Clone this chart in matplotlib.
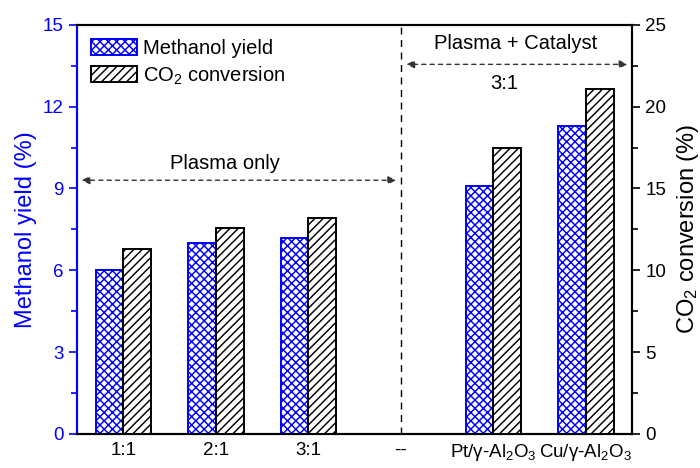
import numpy as np
from matplotlib import pyplot as plt
from matplotlib.ticker import MultipleLocator

plt.rcParams['font.family'] = ['Liberation Sans', 'DejaVu Sans']
plt.rcParams['mathtext.fontset'] = 'custom'
plt.rcParams['mathtext.rm'] = 'Liberation Sans'
plt.rcParams['mathtext.default'] = 'regular'
plt.rcParams['hatch.linewidth'] = 1.05

# data
categories = ['1:1', '2:1', '3:1', '--', 'Pt/γ-Al$_2$O$_3$', 'Cu/γ-Al$_2$O$_3$']
methanol_yield = [6.0, 7.0, 7.2, 0, 9.1, 11.3]
co2_conversion = [11.3, 12.6, 13.2, 0, 17.5, 21.1]

fig = plt.figure(figsize=(7, 4.68), dpi=100)
ax = fig.add_axes([0.11, 0.073, 0.793, 0.874])
ax2 = ax.twinx()

x = np.arange(len(categories))
w = 0.3
blue = '#0000ff'
b1 = ax.bar(x - w / 2, methanol_yield, w, color='white', edgecolor=blue,
            hatch='xxxx', linewidth=1.4, label='Methanol yield')
b2 = ax2.bar(x + w / 2, co2_conversion, w, color='white', edgecolor='black',
             hatch='////', linewidth=1.4, label='CO$_2$ conversion')
# the empty "--" slot has no bars
b1[3].set_visible(False)
b2[3].set_visible(False)

ax.set_xlim(-0.5, 5.5)
ax.set_ylim(0, 15)
ax2.set_ylim(0, 25)
ax.set_xticks(x)
ax.set_xticklabels(categories, fontsize=13.5)
ax.tick_params(axis='x', length=0, pad=6)

ax.yaxis.set_major_locator(MultipleLocator(3))
ax.yaxis.set_minor_locator(MultipleLocator(1.5))
ax2.yaxis.set_major_locator(MultipleLocator(5))
ax2.yaxis.set_minor_locator(MultipleLocator(2.5))
ax.tick_params(axis='y', which='major', colors=blue, labelsize=13.5, length=6, width=1.2)
ax.tick_params(axis='y', which='minor', colors=blue, length=4, width=1.2)
ax2.tick_params(axis='y', which='major', colors='black', labelsize=13.5, length=6, width=1.2)
ax2.tick_params(axis='y', which='minor', colors='black', length=4, width=1.2)

ax.set_ylabel('Methanol yield (%)', color=blue, fontsize=17, labelpad=4)
ax2.set_ylabel('CO$_2$ conversion (%)', fontsize=17, labelpad=6)

for a in (ax, ax2):
    for s in a.spines.values():
        s.set_linewidth(1.5)
ax2.spines['left'].set_color(blue)
ax.spines['left'].set_color(blue)

# separator and annotations
ax.axvline(3, color='black', linestyle=(0, (5, 4)), linewidth=1)
ax.annotate('', xy=(-0.48, 9.3), xytext=(2.98, 9.3),
            arrowprops=dict(arrowstyle='<|-|>', linestyle=(0, (3, 3)), color='#333333',
                            lw=1, mutation_scale=12))
ax.text(1.1, 9.9, 'Plasma only', ha='center', va='center', fontsize=14.5)
ax.annotate('', xy=(3.03, 13.55), xytext=(5.48, 13.55),
            arrowprops=dict(arrowstyle='<|-|>', linestyle=(0, (3, 3)), color='#333333',
                            lw=1, mutation_scale=12))
ax.text(4.24, 14.3, 'Plasma + Catalyst', ha='center', va='center', fontsize=14.5)
ax.text(4.12, 12.85, '3:1', ha='center', va='center', fontsize=14.5)

ax.legend(handles=[b1, b2], loc='upper left', frameon=False, fontsize=14.5,
          handlelength=2.3, handleheight=0.85, labelspacing=0.32,
          borderaxespad=0.3, handletextpad=0.3)

fig.savefig('out.png', dpi=100)
